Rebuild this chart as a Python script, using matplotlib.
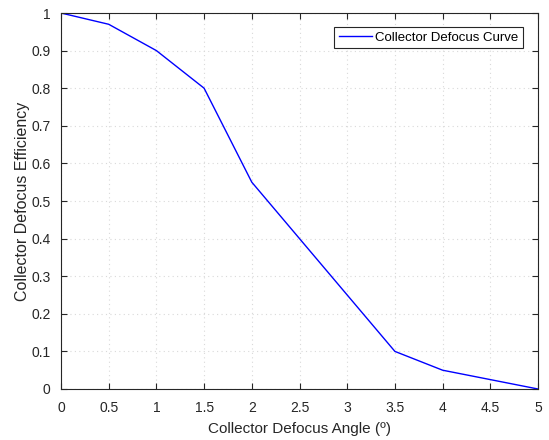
import matplotlib
matplotlib.use("Agg")
import matplotlib.pyplot as plt

# Defocus angle (degrees) and corresponding collector efficiency
angle = [0, 0.5, 1, 1.5, 2, 3.5, 4, 5]
efficiency = [1.0, 0.97, 0.90, 0.80, 0.55, 0.10, 0.05, 0.0]

xticks = [0, 0.5, 1, 1.5, 2, 2.5, 3, 3.5, 4, 4.5, 5]
xticklabels = ["0", "0.5", "1", "1.5", "2", "2.5", "3", "3.5", "4", "4.5", "5"]
yticks = [0, 0.1, 0.2, 0.3, 0.4, 0.5, 0.6, 0.7, 0.8, 0.9, 1]
yticklabels = ["0", "0.1", "0.2", "0.3", "0.4", "0.5", "0.6", "0.7", "0.8", "0.9", "1"]

plt.rcParams["font.family"] = ["Liberation Sans", "DejaVu Sans"]

fig = plt.figure(figsize=(5.49, 4.40), dpi=100)
ax = fig.add_axes([61 / 549, 1 - 389 / 440, (538 - 61) / 549, (389 - 13) / 440])

ax.plot(angle, efficiency, color="#0000ff", linewidth=1.0, label="Collector Defocus Curve")

ax.set_xlim(0, 5)
ax.set_ylim(0, 1)
ax.set_xticks(xticks)
ax.set_xticklabels(xticklabels)
ax.set_yticks(yticks)
ax.set_yticklabels(yticklabels)

edge = "#262626"
for s in ax.spines.values():
    s.set_color(edge)
    s.set_linewidth(0.8)
ax.tick_params(direction="in", top=True, right=True, length=4, width=0.8,
               colors=edge, labelsize=10, labelcolor=edge)
ax.tick_params(axis="x", pad=8.5)
ax.tick_params(axis="y", pad=7.5)
ax.grid(True, color="#d9d9d9", linestyle=(0, (1, 3)), linewidth=0.8)

ax.set_xlabel("Collector Defocus Angle (º)", fontsize=11, color=edge, labelpad=5.5)
ax.set_ylabel("Collector Defocus Efficiency", fontsize=11.5, color=edge, labelpad=1)

leg = ax.legend(loc="upper right", bbox_to_anchor=(0.9686, 0.9628), fontsize=9.5,
                fancybox=False, framealpha=1, edgecolor=edge, handlelength=2.5,
                borderpad=0.35, handletextpad=0.25, borderaxespad=0)
leg.get_frame().set_linewidth(0.8)

fig.savefig("out.png", dpi=100)
